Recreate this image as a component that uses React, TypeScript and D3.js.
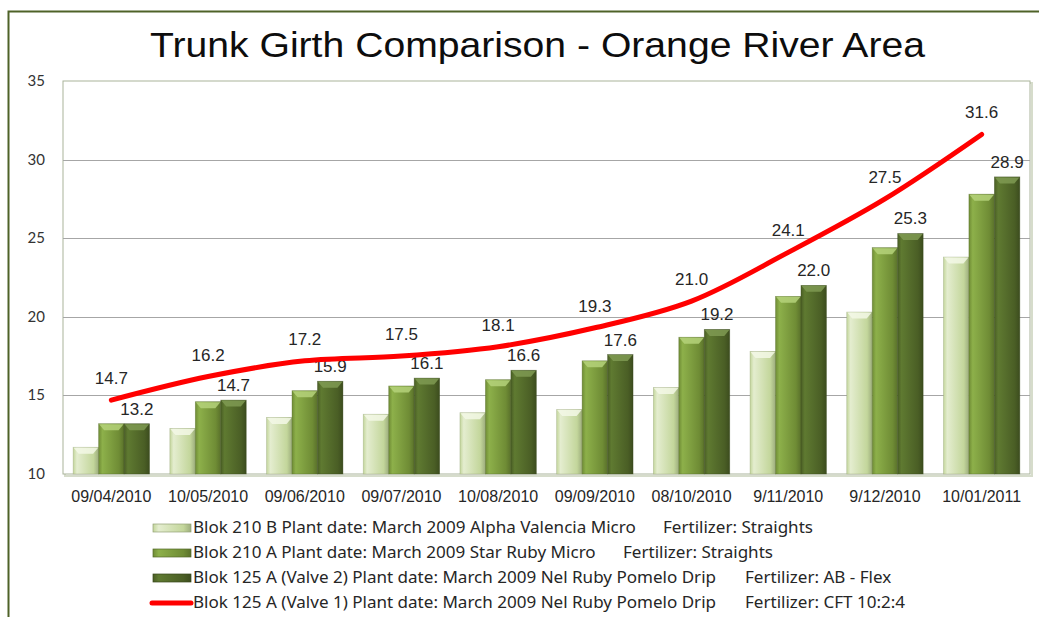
import { useEffect, useRef } from "react";
import * as d3 from "d3";

const W = 1039;
const H = 617;

const categories = [
  "09/04/2010",
  "10/05/2010",
  "09/06/2010",
  "09/07/2010",
  "10/08/2010",
  "09/09/2010",
  "08/10/2010",
  "9/11/2010",
  "9/12/2010",
  "10/01/2011",
];
const blok210B = [11.7, 12.9, 13.6, 13.8, 13.9, 14.1, 15.5, 17.8, 20.3, 23.8];
const blok210A = [13.2, 14.6, 15.3, 15.6, 16.0, 17.2, 18.7, 21.3, 24.4, 27.8];
const blok125V2 = [13.2, 14.7, 15.9, 16.1, 16.6, 17.6, 19.2, 22.0, 25.3, 28.9];
const blok125V1 = [14.7, 16.2, 17.2, 17.5, 18.1, 19.3, 21.0, 24.1, 27.5, 31.6];
const yTicks = [10, 15, 20, 25, 30, 35];

const barSeries = [
  { name: "Blok 210 B Plant date: March 2009 Alpha Valencia Micro", fert: "Fertilizer: Straights", values: blok210B, c1: "#e4edcf", c2: "#c3d69b", cap: "#f3f8e6" },
  { name: "Blok 210 A Plant date: March 2009 Star Ruby Micro", fert: "Fertilizer: Straights", values: blok210A, c1: "#8db04a", c2: "#6f8c35", cap: "#b5d27a" },
  { name: "Blok 125 A (Valve 2) Plant date: March 2009 Nel Ruby Pomelo Drip", fert: "Fertilizer: AB - Flex", values: blok125V2, c1: "#5f7a31", c2: "#4a5e25", cap: "#7f9a52" },
];
const lineName = "Blok 125 A (Valve 1) Plant date: March 2009 Nel Ruby Pomelo Drip";
const lineFert = "Fertilizer: CFT 10:2:4";

export default function App() {
  const ref = useRef(null);

  useEffect(() => {
    const svg = d3.select(ref.current);
    svg.selectAll("*").remove();

    const plot = { left: 63, top: 81, right: 1030, bottom: 474 };

    // gradients for the bevelled bars
    const defs = svg.append("defs");
    barSeries.forEach((s, i) => {
      const g = defs
        .append("linearGradient")
        .attr("id", "bar" + i)
        .attr("x1", 0)
        .attr("x2", 1)
        .attr("y1", 0)
        .attr("y2", 0);
      g.append("stop").attr("offset", "0%").attr("stop-color", s.c2);
      g.append("stop").attr("offset", "15%").attr("stop-color", s.c1);
      g.append("stop").attr("offset", "80%").attr("stop-color", s.c2);
      g.append("stop").attr("offset", "100%").attr("stop-color", d3.color(s.c2).darker(0.6));
    });

    // outer frame
    svg
      .append("rect")
      .attr("x", 8.5)
      .attr("y", 11.5)
      .attr("width", W + 20)
      .attr("height", H + 20)
      .attr("fill", "white")
      .attr("stroke", "#4f6228")
      .attr("stroke-width", 2);

    svg
      .append("text")
      .attr("x", 150)
      .attr("y", 57)
      .attr("textLength", 775)
      .attr("lengthAdjust", "spacingAndGlyphs")
      .style("font-family", "'Liberation Sans', Arial, sans-serif")
      .style("font-size", "35px")
      .attr("fill", "#0d0d0d")
      .text("Trunk Girth Comparison - Orange River Area");

    const x = d3.scaleBand().domain(categories).range([plot.left, plot.right]).paddingInner(0.21).paddingOuter(0.105);
    const xs = d3.scaleBand().domain(barSeries.map((_, i) => i)).range([0, x.bandwidth()]);
    const y = d3.scaleLinear().domain([10, 35]).range([plot.bottom, plot.top]);

    // plot area border + shadow
    svg
      .append("rect")
      .attr("x", plot.left + 2)
      .attr("y", plot.top + 2)
      .attr("width", plot.right - plot.left)
      .attr("height", plot.bottom - plot.top)
      .attr("fill", "none")
      .attr("stroke", "#d6dccb")
      .attr("stroke-width", 2);
    svg
      .append("rect")
      .attr("x", plot.left)
      .attr("y", plot.top)
      .attr("width", plot.right - plot.left)
      .attr("height", plot.bottom - plot.top)
      .attr("fill", "white")
      .attr("stroke", "#a9b39a")
      .attr("stroke-width", 1);

    // gridlines
    svg
      .append("g")
      .selectAll("line")
      .data(yTicks.slice(1, -1))
      .join("line")
      .attr("x1", plot.left)
      .attr("x2", plot.right)
      .attr("y1", (d) => Math.round(y(d)) + 0.5)
      .attr("y2", (d) => Math.round(y(d)) + 0.5)
      .attr("stroke", "#a6a6a6");

    // y tick labels
    svg
      .append("g")
      .selectAll("text")
      .data(yTicks)
      .join("text")
      .attr("x", 45)
      .attr("y", (d) => y(d) + 5)
      .attr("text-anchor", "end")
      .style("font-family", "Lato, 'Noto Sans', sans-serif")
      .style("font-size", "15px")
      .attr("fill", "#333")
      .text((d) => d);

    // x tick labels
    svg
      .append("g")
      .selectAll("text")
      .data(categories)
      .join("text")
      .attr("x", (d) => x(d) + x.bandwidth() / 2)
      .attr("y", 502)
      .attr("text-anchor", "middle")
      .style("font-family", "'Liberation Sans', Arial, sans-serif")
      .style("font-size", "16px")
      .attr("fill", "#262626")
      .text((d) => d);

    // bars
    barSeries.forEach((s, i) => {
      const g = svg.append("g");
      const data = s.values.map((v, k) => ({ v, c: categories[k] }));
      g.selectAll("rect.b")
        .data(data)
        .join("rect")
        .attr("class", "b")
        .attr("x", (d) => x(d.c) + xs(i))
        .attr("y", (d) => y(d.v))
        .attr("width", xs.bandwidth())
        .attr("height", (d) => plot.bottom - y(d.v))
        .attr("fill", `url(#bar${i})`)
        .attr("stroke", d3.color(s.c2).darker(0.8))
        .attr("stroke-opacity", 0.5)
        .attr("stroke-width", 0.7);
      g.selectAll("path.cap")
        .data(data)
        .join("path")
        .attr("class", "cap")
        .attr("d", (d) => {
          const x0 = x(d.c) + xs(i) + 0.5;
          const x1 = x0 + xs.bandwidth() - 1;
          const t = y(d.v) + 0.5;
          return `M${x0},${t}L${x1},${t}L${x1 - 5},${t + 6}L${x0 + 5},${t + 6}Z`;
        })
        .attr("fill", s.cap)
        .attr("opacity", 0.85);
    });

    // labels on dark bars
    svg
      .append("g")
      .selectAll("text")
      .data(blok125V2.map((v, k) => ({ v, c: categories[k] })))
      .join("text")
      .attr("x", (d) => x(d.c) + xs(2) + xs.bandwidth() / 2)
      .attr("y", (d) => y(d.v) - 9)
      .attr("text-anchor", "middle")
      .style("font-family", "'Liberation Sans', Arial, sans-serif")
      .style("font-size", "17px")
      .attr("fill", "#262626")
      .text((d) => d.v.toFixed(1));

    // red line
    const lineData = blok125V1.map((v, k) => ({ v, c: categories[k] }));
    const line = d3
      .line()
      .x((d) => x(d.c) + x.bandwidth() / 2)
      .y((d) => y(d.v))
      .curve(d3.curveCatmullRom.alpha(0.5));
    svg
      .append("path")
      .datum(lineData)
      .attr("d", line)
      .attr("fill", "none")
      .attr("stroke", "#ff0000")
      .attr("stroke-width", 5)
      .attr("stroke-linecap", "round");

    svg
      .append("g")
      .selectAll("text")
      .data(lineData)
      .join("text")
      .attr("x", (d) => x(d.c) + x.bandwidth() / 2)
      .attr("y", (d) => y(d.v) - 16)
      .attr("text-anchor", "middle")
      .style("font-family", "'Liberation Sans', Arial, sans-serif")
      .style("font-size", "17px")
      .attr("fill", "#262626")
      .text((d) => d.v.toFixed(1));

    // legend
    const legend = svg.append("g");
    const rows = [
      ...barSeries.map((s, i) => ({ name: s.name, fert: s.fert, type: "bar", i })),
      { name: lineName, fert: lineFert, type: "line", i: 3 },
    ];
    const fertX = [663, 623, 745, 745];
    rows.forEach((r, k) => {
      const cy = 528 + k * 25;
      if (r.type === "bar") {
        legend
          .append("rect")
          .attr("x", 153)
          .attr("y", cy - 4)
          .attr("width", 38)
          .attr("height", 8)
          .attr("fill", `url(#bar${r.i})`)
          .attr("stroke", d3.color(barSeries[r.i].c2).darker(0.8))
          .attr("stroke-width", 0.7);
      } else {
        legend
          .append("line")
          .attr("x1", 152)
          .attr("x2", 191)
          .attr("y1", cy)
          .attr("y2", cy)
          .attr("stroke", "#ff0000")
          .attr("stroke-width", 5)
          .attr("stroke-linecap", "round");
      }
      legend
        .append("text")
        .attr("transform", `translate(193,${cy + 5}) scale(1.1,1)`)
        .style("font-family", "'Noto Sans', sans-serif")
        .style("font-size", "15.5px")
        .attr("fill", "#262626")
        .text(r.name);
      legend
        .append("text")
        .attr("transform", `translate(${fertX[k]},${cy + 5}) scale(1.1,1)`)
        .style("font-family", "'Noto Sans', sans-serif")
        .style("font-size", "15.5px")
        .attr("fill", "#262626")
        .text(r.fert);
    });
  }, []);

  return (
    <svg
      ref={ref}
      width={W}
      height={H}
      style={{ position: "absolute", left: 0, top: 0, display: "block", background: "white" }}
    />
  );
}
